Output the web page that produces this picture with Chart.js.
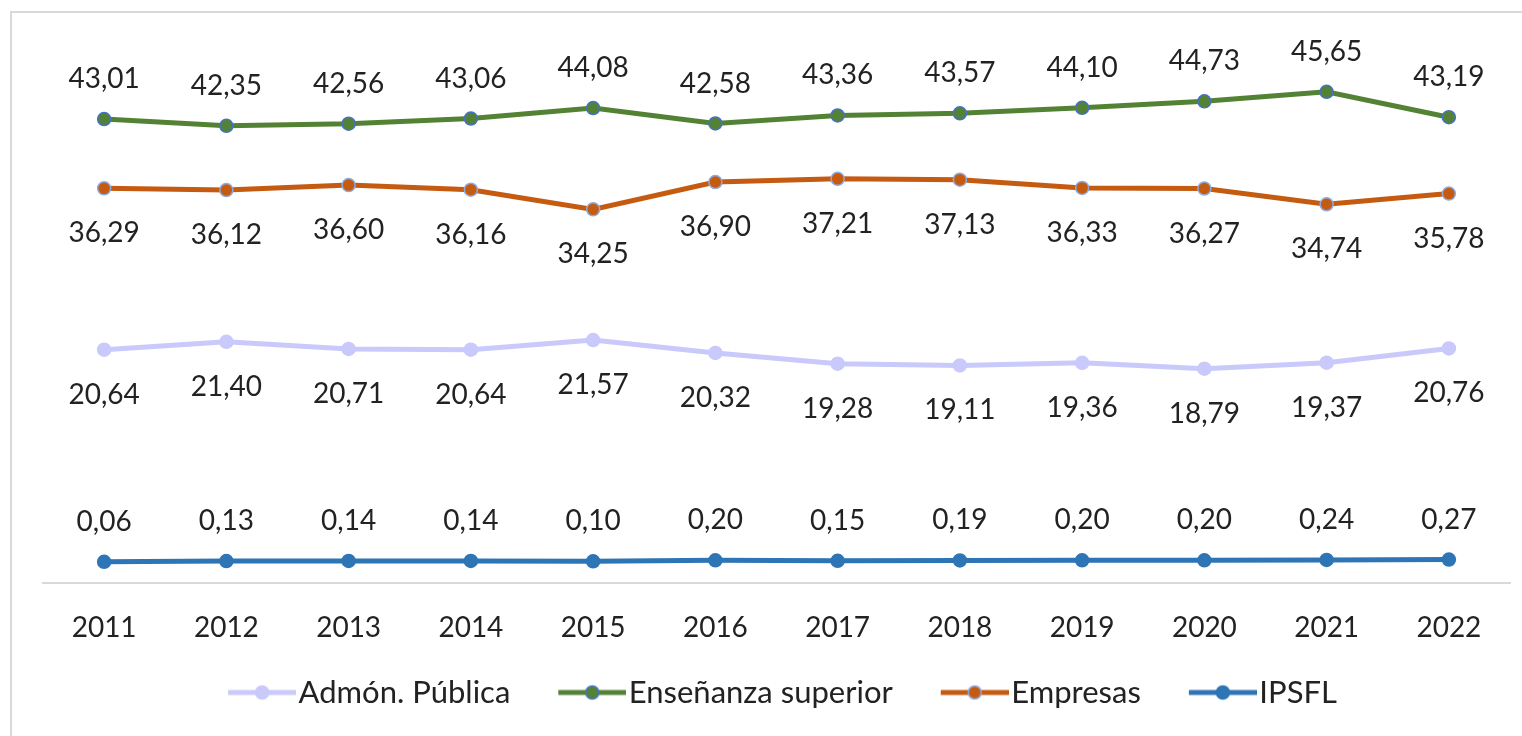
<!DOCTYPE html>
<html>
<head>
<meta charset="utf-8">
<script src="https://cdn.jsdelivr.net/npm/chart.js@4.4.1/dist/chart.umd.min.js"></script>
<style>
  html, body { margin: 0; padding: 0; background: #fff; overflow: hidden; }
  #wrap { position: absolute; left: 0; top: 0; width: 1522px; height: 736px; }
  #frame { position: absolute; left: 10px; top: 11px; width: 1520px; height: 740px; border: 2px solid #d9d9d9; }
  #chart { position: absolute; left: 0; top: 0; }
</style>
</head>
<body>
<div id="wrap">
  <div id="frame"></div>
  <canvas id="chart" width="1522" height="736"></canvas>
</div>
<script>
// Data
const years = ['2011', '2012', '2013', '2014', '2015', '2016', '2017', '2018', '2019', '2020', '2021', '2022'];
const admonPublica = [20.64, 21.40, 20.71, 20.64, 21.57, 20.32, 19.28, 19.11, 19.36, 18.79, 19.37, 20.76];
const ensenanzaSuperior = [43.01, 42.35, 42.56, 43.06, 44.08, 42.58, 43.36, 43.57, 44.10, 44.73, 45.65, 43.19];
const empresas = [36.29, 36.12, 36.60, 36.16, 34.25, 36.90, 37.21, 37.13, 36.33, 36.27, 34.74, 35.78];
const ipsfl = [0.06, 0.13, 0.14, 0.14, 0.10, 0.20, 0.15, 0.19, 0.20, 0.20, 0.24, 0.27];

const FONT = 'Lato, "Open Sans", sans-serif';
const TEXT = '#222222';

// line + marker swatch for the legend (transparent left part = gap to previous item)
const swatch = (line, fill, border) => {
  const c = document.createElement('canvas');
  c.width = 119;
  c.height = 18;
  const g = c.getContext('2d');
  g.strokeStyle = line;
  g.lineWidth = 5;
  g.beginPath();
  g.moveTo(51, 9);
  g.lineTo(119, 9);
  g.stroke();
  g.beginPath();
  g.arc(85, 9, 6.5, 0, Math.PI * 2);
  g.fillStyle = fill;
  g.fill();
  g.lineWidth = 1.5;
  g.strokeStyle = border;
  g.stroke();
  return c;
};

const series = [
  { label: 'Admón. Pública', data: admonPublica, color: '#c9c9fb', border: '#c9c9fb', pos: 'below' },
  { label: 'Enseñanza superior', data: ensenanzaSuperior, color: '#548235', border: '#4472c4', pos: 'above' },
  { label: 'Empresas', data: empresas, color: '#c55a11', border: '#8faadc', pos: 'below' },
  { label: 'IPSFL', data: ipsfl, color: '#2e75b6', border: '#2e75b6', pos: 'above' },
];

// Simple value labels (comma decimals)
const valueLabels = {
  id: 'valueLabels',
  afterLayout(chart) {
    // visible legend content starts after the first swatch's empty part
    chart.legend.left -= 13;
    chart.legend.right -= 13;
  },
  afterDatasetsDraw(chart) {
    const { ctx } = chart;
    ctx.save();
    ctx.font = '28px ' + FONT;
    ctx.fillStyle = TEXT;
    ctx.textAlign = 'center';
    ctx.textBaseline = 'middle';
    chart.data.datasets.forEach((ds, i) => {
      const meta = chart.getDatasetMeta(i);
      meta.data.forEach((pt, j) => {
        const txt = ds.data[j].toFixed(2).replace('.', ',');
        const dy = ds.labelPos === 'above' ? -40 : 45;
        ctx.fillText(txt, pt.x, pt.y + dy);
      });
    });
    ctx.restore();
  },
};

const ctx = document.getElementById('chart');
const chart = new Chart(ctx, {
  type: 'line',
  data: {
    labels: years,
    datasets: series.map(s => ({
      label: s.label,
      data: s.data,
      labelPos: s.pos,
      borderColor: s.color,
      backgroundColor: s.color,
      pointBackgroundColor: s.color,
      pointBorderColor: s.border,
      pointBorderWidth: 1.5,
      pointRadius: 6.5,
      borderWidth: 5,
      tension: 0,
      legendSwatch: swatch(s.color, s.color, s.border),
    })),
  },
  options: {
    responsive: false,
    animation: false,
    layout: {
      padding: { top: 47, left: 43, right: 12, bottom: 18 },
    },
    scales: {
      x: {
        offset: true,
        grid: { display: false, drawTicks: false },
        border: { display: true, color: '#d9d9d9', width: 2 },
        ticks: {
          color: TEXT,
          font: { family: FONT, size: 28 },
          padding: 28,
          maxRotation: 0,
        },
        afterFit: (scale) => { scale.height = 84; },
      },
      y: {
        display: false,
        min: -2,
        max: 50,
      },
    },
    plugins: {
      legend: {
        position: 'bottom',
        labels: {
          usePointStyle: true,
          pointStyleWidth: 93,
          padding: 10,
          color: TEXT,
          font: { family: FONT, size: 31 },
          generateLabels: (chart) => {
            const items = Chart.defaults.plugins.legend.labels.generateLabels(chart);
            items.forEach(it => {
              it.pointStyle = chart.data.datasets[it.datasetIndex].legendSwatch;
            });
            return items;
          },
        },
      },
      tooltip: { enabled: false },
    },
  },
  plugins: [valueLabels],
});
</script>
</body>
</html>
